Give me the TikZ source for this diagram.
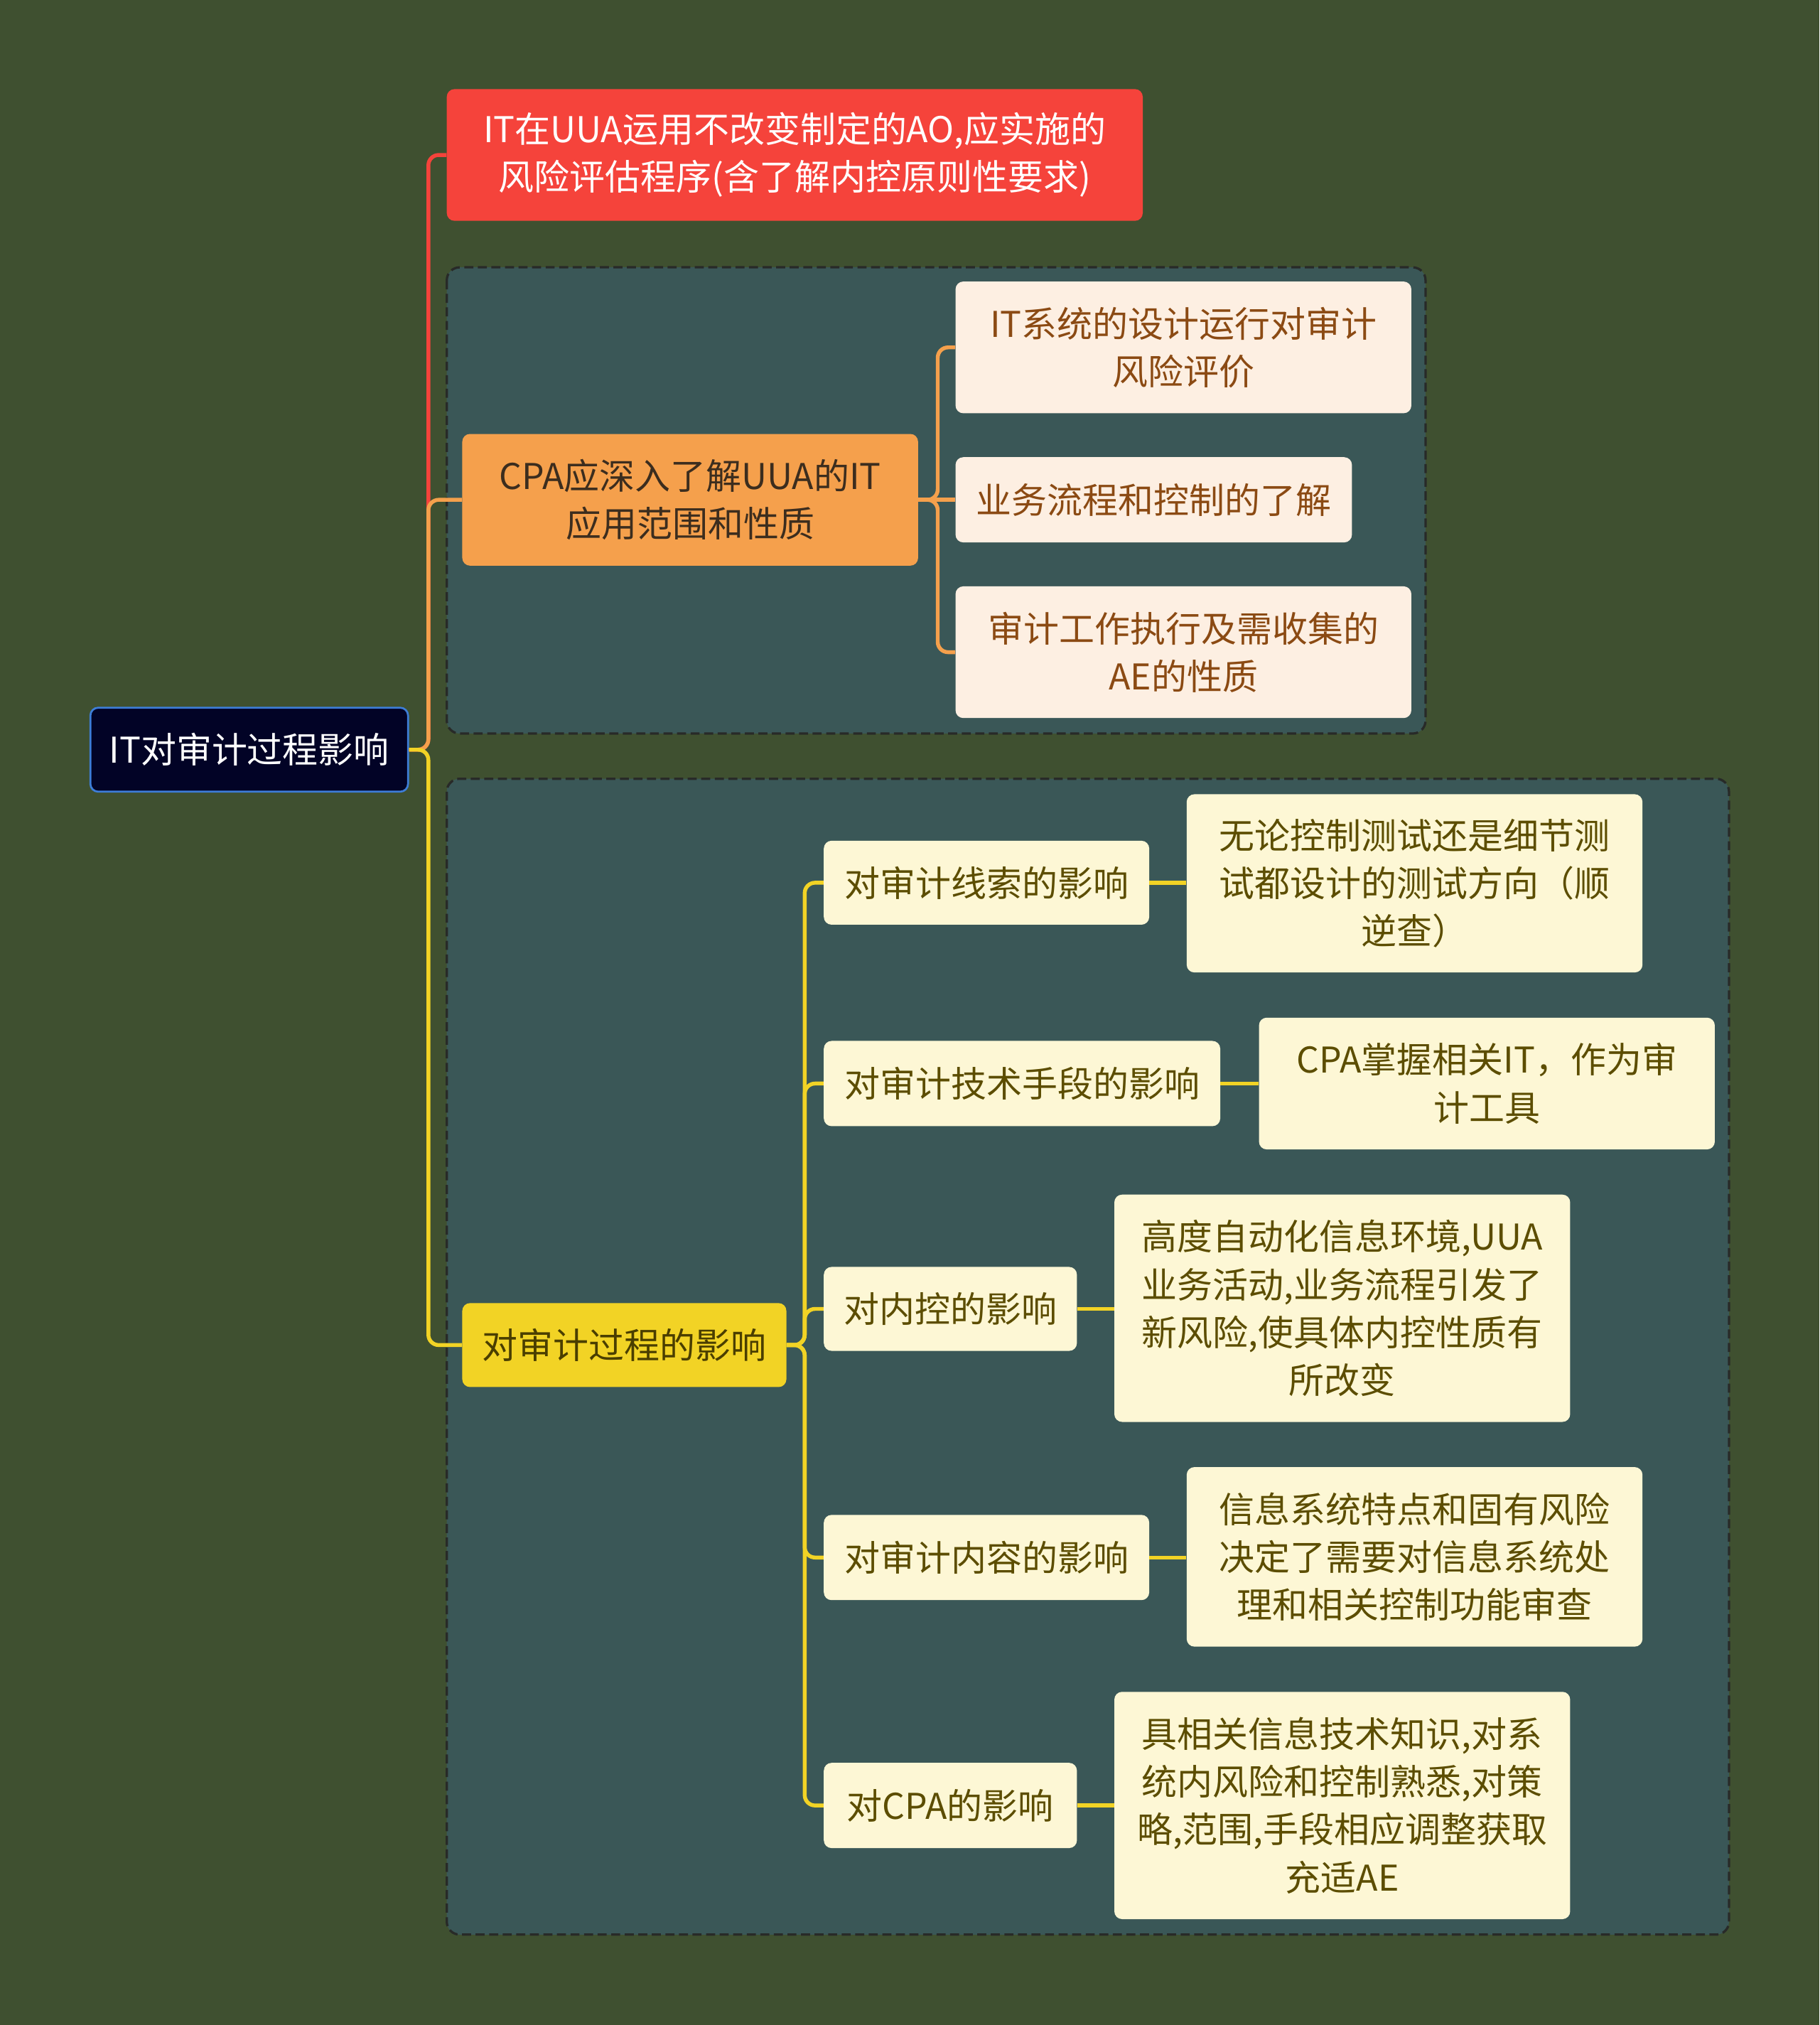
\documentclass[tikz,border=0pt]{standalone}
\usepackage{fontspec}
\newfontfamily\cjk{Noto Sans CJK SC}
\definecolor{bgc}{RGB}{63,80,48}
\definecolor{grpfill}{RGB}{58,87,87}
\definecolor{grpline}{RGB}{40,42,40}
\definecolor{rootfill}{RGB}{2,3,38}
\definecolor{rootline}{RGB}{61,125,216}
\definecolor{redc}{RGB}{245,67,59}
\definecolor{orangec}{RGB}{245,160,76}
\definecolor{yellowc}{RGB}{242,211,37}
\definecolor{peach}{RGB}{253,239,226}
\definecolor{brownt}{RGB}{139,74,19}
\definecolor{cream}{RGB}{253,247,213}
\definecolor{olivet}{RGB}{92,77,0}
\definecolor{darkt}{RGB}{60,45,30}
\begin{document}
\begin{tikzpicture}[x=1pt,y=-1pt,
  box/.style={rounded corners=6pt, inner sep=0pt, align=center,
    font=\cjk\fontsize{27.5}{37}\selectfont},
  rootbox/.style={box, fill=rootfill, draw=rootline, line width=1.5pt, text=white},
  redbox/.style={box, fill=redc, text=white},
  orangebox/.style={box, fill=orangec, text=darkt},
  peachbox/.style={box, fill=peach, text=brownt},
  yellowbox/.style={box, fill=yellowc, text=olivet!80!black},
  creambox/.style={box, fill=cream, text=olivet},
  grp/.style={draw=grpline, fill=grpfill, dash pattern=on 7pt off 3.5pt, line width=1.8pt, rounded corners=10pt},
  link/.style={line width=3pt, rounded corners=8pt}
]
\useasboundingbox (0,0) rectangle (1409,1568);
\fill[bgc] (0,0) rectangle (1409,1568);

% group boxes
\draw[grp] (346,207) rectangle (1104,568);
\draw[grp] (346,603) rectangle (1339,1498);

% nodes
\node[rootbox, minimum width=246pt, minimum height=65pt] (root) at (193,580.5) {IT对审计过程影响};
\node[redbox, minimum width=539pt, minimum height=102pt] (red) at (615.5,120) {IT在UUA运用不改变制定的AO,应实施的\\风险评估程序(含了解内控原则性要求)};
\node[orangebox, minimum width=353pt, minimum height=102pt] (orange) at (534.5,387) {CPA应深入了解UUA的IT\\应用范围和性质};
\node[yellowbox, minimum width=251pt, minimum height=65pt] (yellow) at (483.5,1041.5) {对审计过程的影响};

\node[peachbox, minimum width=353pt, minimum height=102pt] (c1) at (916.5,269) {IT系统的设计运行对审计\\风险评价};
\node[peachbox, minimum width=307pt, minimum height=66pt] (c2) at (893.5,387) {业务流程和控制的了解};
\node[peachbox, minimum width=353pt, minimum height=102pt] (c3) at (916.5,505) {审计工作执行及需收集的\\AE的性质};

\node[creambox, minimum width=252pt, minimum height=65pt] (d1) at (764,683.5) {对审计线索的影响};
\node[creambox, minimum width=307pt, minimum height=66pt] (d2) at (791.5,839) {对审计技术手段的影响};
\node[creambox, minimum width=196pt, minimum height=65pt] (d3) at (736,1013.5) {对内控的影响};
\node[creambox, minimum width=252pt, minimum height=66pt] (d4) at (764,1206) {对审计内容的影响};
\node[creambox, minimum width=196pt, minimum height=66pt] (d5) at (736,1398) {对CPA的影响};

\node[creambox, minimum width=353pt, minimum height=138pt] (e1) at (1095.5,684) {无论控制测试还是细节测\\试都设计的测试方向（顺\\逆查）};
\node[creambox, minimum width=353pt, minimum height=102pt] (e2) at (1151.5,839) {CPA掌握相关IT，作为审\\计工具};
\node[creambox, minimum width=353pt, minimum height=176pt] (e3) at (1039.5,1013) {高度自动化信息环境,UUA\\业务活动,业务流程引发了\\新风险,使具体内控性质有\\所改变};
\node[creambox, minimum width=353pt, minimum height=139pt] (e4) at (1095.5,1205.5) {信息系统特点和固有风险\\决定了需要对信息系统处\\理和相关控制功能审查};
\node[creambox, minimum width=353pt, minimum height=176pt] (e5) at (1039.5,1398) {具相关信息技术知识,对系\\统内风险和控制熟悉,对策\\略,范围,手段相应调整获取\\充适AE};

% connectors from root
\draw[link, redc] (root.east) -- ++(15,0) |- (red.west);
\draw[link, orangec] (root.east) -- ++(15,0) |- (orange.west);
\draw[link, yellowc] (root.east) -- ++(15,0) |- (yellow.west);

% orange branch
\draw[link, orangec] (orange.east) -- (c2.west);
\draw[link, orangec] (orange.east) -- ++(15,0) |- (c1.west);
\draw[link, orangec] (orange.east) -- ++(15,0) |- (c3.west);

% yellow branch
\foreach \n in {d1,d2,d3,d4,d5}{
  \draw[link, yellowc] (yellow.east) -- ++(14,0) |- (\n.west);
}
\foreach \a/\b in {d1/e1,d2/e2,d3/e3,d4/e4,d5/e5}{
  \draw[link, yellowc] (\a.east) -- (\a.east -| \b.west);
}
\end{tikzpicture}
\end{document}
